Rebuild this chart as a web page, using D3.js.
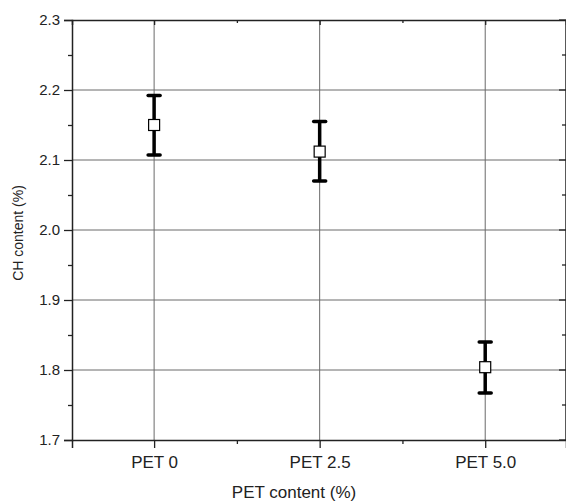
<!DOCTYPE html>
<html>
<head>
<meta charset="utf-8">
<script src="https://cdn.jsdelivr.net/npm/d3@7"></script>
<style>
  body { margin: 0; background: #fff; }
  text { font-family: Arial, "Liberation Sans", sans-serif; fill: #222; }
</style>
</head>
<body>
<div id="chart"></div>
<script>
var categories = ['PET 0', 'PET 2.5', 'PET 5.0'];
var petLevels = [0, 2.5, 5];
var means = [2.150, 2.112, 1.804];
var upper = [2.192, 2.155, 1.840];
var lower = [2.107, 2.070, 1.767];
var yTicks = [1.7, 1.8, 1.9, 2.0, 2.1, 2.2, 2.3];

var W = 566, H = 503;
var margin = {top: 20, right: 0, bottom: 63, left: 72};

var svg = d3.select('#chart').append('svg')
  .attr('width', W)
  .attr('height', H)
  .style('background-color', '#fff');

var x = d3.scaleLinear()
  .domain([-1.24, 6.22])
  .range([margin.left, W - margin.right]);

var y = d3.scaleLinear()
  .domain([1.7, 2.3])
  .range([H - margin.bottom, margin.top]);

var x0 = x.range()[0], x1 = x.range()[1];
var y0 = y.range()[0], y1 = y.range()[1];

var yMinor = d3.range(1.75, 2.3, 0.1);
var xMinor = [1.25, 3.75];

// grid
svg.append('g').selectAll('line.hg')
  .data(yTicks.slice(1, -1))
  .enter().append('line')
    .attr('x1', x0).attr('x2', x1)
    .attr('y1', function(d) { return y(d); })
    .attr('y2', function(d) { return y(d); })
    .attr('stroke', '#6a6a6a').attr('stroke-width', 1);

svg.append('g').selectAll('line.vg')
  .data(petLevels)
  .enter().append('line')
    .attr('x1', function(d) { return x(d); })
    .attr('x2', function(d) { return x(d); })
    .attr('y1', y1).attr('y2', y0)
    .attr('stroke', '#6a6a6a').attr('stroke-width', 1);

// left axis
var yAxis = svg.append('g')
  .attr('transform', 'translate(' + x0 + ',0)')
  .call(d3.axisLeft(y).tickValues(yTicks).tickSize(8).tickPadding(4)
    .tickFormat(d3.format('.1f')));
yAxis.selectAll('text').attr('font-size', '15px').attr('fill', '#222')
  .style('font-family', 'Arial, "Liberation Sans", sans-serif');
yAxis.select('.domain').attr('stroke', '#222').attr('stroke-width', 1.5);
yAxis.selectAll('line').attr('stroke', '#222').attr('stroke-width', 1.3);

svg.append('g')
  .attr('transform', 'translate(' + x0 + ',0)')
  .call(d3.axisLeft(y).tickValues(yMinor).tickSize(4).tickFormat(''))
  .call(function(g) { g.select('.domain').remove(); })
  .selectAll('line').attr('stroke', '#222').attr('stroke-width', 1.3);

// right axis (inward ticks)
var rAxis = svg.append('g')
  .attr('transform', 'translate(' + (x1 - 0.5) + ',0)')
  .call(d3.axisLeft(y).tickValues(yTicks).tickSize(-0).tickFormat(''));
rAxis.select('.domain').attr('stroke', '#222').attr('stroke-width', 1.5);
svg.append('g').selectAll('line.rt')
  .data(yTicks.concat(yMinor))
  .enter().append('line')
    .attr('x1', function(d) { return x1 - (yTicks.indexOf(d) >= 0 ? 7 : 4); })
    .attr('x2', x1)
    .attr('y1', function(d) { return y(d); })
    .attr('y2', function(d) { return y(d); })
    .attr('stroke', '#222').attr('stroke-width', 1.3);

// bottom axis
var xAxis = svg.append('g')
  .attr('transform', 'translate(0,' + y0 + ')')
  .call(d3.axisBottom(x).tickValues(petLevels).tickSize(8).tickPadding(8)
    .tickFormat(function(d, i) { return categories[i]; }));
xAxis.selectAll('text').attr('font-size', '17px').attr('fill', '#222')
  .style('font-family', 'Arial, "Liberation Sans", sans-serif');
xAxis.select('.domain').attr('stroke', '#222').attr('stroke-width', 1.5);
xAxis.selectAll('line').attr('stroke', '#222').attr('stroke-width', 1.3);

svg.append('g')
  .attr('transform', 'translate(0,' + y0 + ')')
  .call(d3.axisBottom(x).tickValues(xMinor).tickSize(4).tickFormat(''))
  .call(function(g) { g.select('.domain').remove(); })
  .selectAll('line').attr('stroke', '#222').attr('stroke-width', 1.3);

// top axis (inward ticks)
var tAxis = svg.append('g')
  .attr('transform', 'translate(0,' + y1 + ')')
  .call(d3.axisBottom(x).tickValues(petLevels).tickSize(5).tickFormat(''));
tAxis.select('.domain').attr('stroke', '#222').attr('stroke-width', 1.5);
tAxis.selectAll('line').attr('stroke', '#222').attr('stroke-width', 1.3);
svg.append('g')
  .attr('transform', 'translate(0,' + y1 + ')')
  .call(d3.axisBottom(x).tickValues(xMinor).tickSize(3).tickFormat(''))
  .call(function(g) { g.select('.domain').remove(); })
  .selectAll('line').attr('stroke', '#222').attr('stroke-width', 1.3);

// error bars
var bars = svg.append('g').selectAll('g.err')
  .data(petLevels)
  .enter().append('g');

bars.append('line')
  .attr('x1', function(d) { return x(d); })
  .attr('x2', function(d) { return x(d); })
  .attr('y1', function(d, i) { return y(upper[i]); })
  .attr('y2', function(d, i) { return y(lower[i]); })
  .attr('stroke', '#000').attr('stroke-width', 3.5);

bars.append('line')
  .attr('x1', function(d) { return x(d) - 6; })
  .attr('x2', function(d) { return x(d) + 6; })
  .attr('y1', function(d, i) { return y(upper[i]); })
  .attr('y2', function(d, i) { return y(upper[i]); })
  .attr('stroke', '#000').attr('stroke-width', 3.5)
  .attr('stroke-linecap', 'round');

bars.append('line')
  .attr('x1', function(d) { return x(d) - 6; })
  .attr('x2', function(d) { return x(d) + 6; })
  .attr('y1', function(d, i) { return y(lower[i]); })
  .attr('y2', function(d, i) { return y(lower[i]); })
  .attr('stroke', '#000').attr('stroke-width', 3.5)
  .attr('stroke-linecap', 'round');

bars.append('rect')
  .attr('x', function(d) { return x(d) - 5.5; })
  .attr('y', function(d, i) { return y(means[i]) - 5.5; })
  .attr('width', 11)
  .attr('height', 11)
  .attr('fill', '#fff')
  .attr('stroke', '#000')
  .attr('stroke-width', 1.2);

// titles
svg.append('text')
  .attr('x', 294)
  .attr('y', 498)
  .attr('text-anchor', 'middle')
  .attr('font-size', '17px')
  .text('PET content (%)');

svg.append('text')
  .attr('transform', 'translate(23,233) rotate(-90)')
  .attr('text-anchor', 'middle')
  .attr('font-size', '14px')
  .text('CH content (%)');
</script>
</body>
</html>
